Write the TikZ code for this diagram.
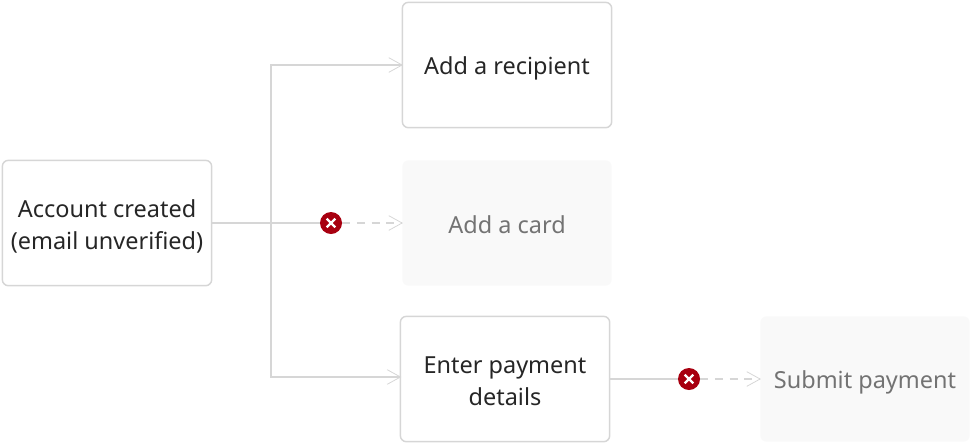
\documentclass[tikz,border=0pt]{standalone}
\usepackage{fontspec}
\setmainfont{Noto Sans}
\usetikzlibrary{arrows.meta}
\definecolor{EdgeGray}{HTML}{D6D6D6}
\definecolor{FadeFill}{HTML}{F9F9F9}
\definecolor{ErrorRed}{HTML}{A80010}
\newcommand\Ln{\rule[-3pt]{0pt}{21pt}}
\tikzset{
    stepbox/.style={draw=EdgeGray,line width=1.1pt,fill=white,rounded corners=4.5pt,minimum width=157pt,minimum height=94pt,align=center,text=black!85,font=\fontsize{17.6}{24}\selectfont},
    fadebox/.style={stepbox,draw=none,fill=FadeFill,text=black!55},
    link/.style={draw=EdgeGray,line width=1.1pt},
    linkarrow/.style={link,shorten >=-1pt,-{Straight Barb[length=10pt,width=11pt,line width=0.6pt]}},
    blocked/.style={linkarrow,dash pattern=on 6pt off 5pt},
    errormark/.style={circle,fill=ErrorRed,minimum size=16.5pt,inner sep=0pt,
        path picture={\draw[white,line width=1.8pt]
            ([shift={(-3.2pt,-3.2pt)}]path picture bounding box.center) -- ([shift={(3.2pt,3.2pt)}]path picture bounding box.center)
            ([shift={(-3.2pt,3.2pt)}]path picture bounding box.center) -- ([shift={(3.2pt,-3.2pt)}]path picture bounding box.center);}},
}
\begin{document}
\begin{tikzpicture}[x=0.75pt,y=-0.75pt]
    \useasboundingbox (0,0) rectangle (970,444);
    % boxes
    \node[stepbox] (Account) at (107,223) {\Ln Account created\\\Ln(email unverified)};
    \node[stepbox] (Recipient) at (507,65) {\Ln Add a recipient};
    \node[fadebox] (Card) at (507,223) {\Ln Add a card};
    \node[stepbox] (Payment) at (505,379) {\Ln Enter payment\\\Ln details};
    \node[fadebox] (Submit) at (865,379) {\Ln Submit payment};
    \node[errormark] (CardError) at (331,223) {};
    \node[errormark] (SubmitError) at (689,379) {};
    \coordinate (Branch) at (271,223);
    \coordinate (PaymentEntry) at (400,377);
    % connectors
    \draw[link] (Account.east) -- (CardError.west);
    \draw[linkarrow] (Branch) |- (Recipient.west);
    \draw[linkarrow] (Branch) |- (PaymentEntry);
    \draw[blocked] (CardError.east) -- (Card.west);
    \draw[link] (Payment.east) -- (SubmitError.west);
    \draw[blocked] (SubmitError.east) -- (Submit.west);
\end{tikzpicture}
\end{document}
